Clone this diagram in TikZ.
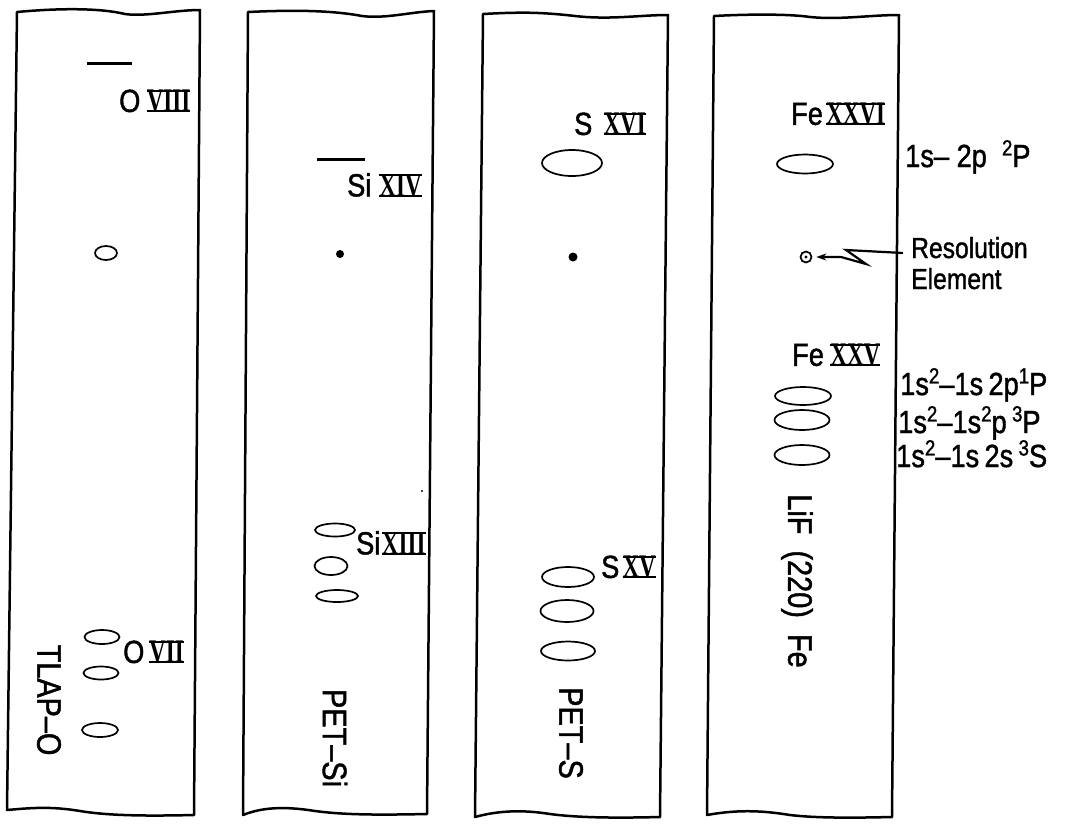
\documentclass[tikz,border=0pt]{standalone}
\usepackage{fontspec}
\usetikzlibrary{arrows.meta}
\setmainfont[FakeStretch=0.85,FakeBold=1.3]{Liberation Sans}
\newfontfamily\romfont[FakeStretch=0.7]{Liberation Serif}
\newcommand{\ionstage}[1]{{\romfont\bfseries\fontsize{33}{35}\selectfont
  \setbox0=\hbox{#1}%
  \rlap{\rule[-0.5pt]{\wd0}{2pt}}%
  \rlap{\rule[\dimexpr\ht0-1.5pt\relax]{\wd0}{2pt}}%
  \box0}}
\newcommand{\supnum}[1]{\raisebox{0.36em}{\fontsize{22}{24}\selectfont #1}}
\begin{document}
\begin{tikzpicture}[x=1pt,y=-1pt,>={Stealth[length=10pt,width=7pt]},
    strip/.style={line width=2.5pt,line join=round},
    spot/.style={line width=1.7pt},
    ion/.style={anchor=west,inner sep=0pt,font=\fontsize{32}{34}\selectfont},
    crystal/.style={rotate=-90,inner sep=0pt,font=\fontsize{34}{36}\selectfont},
    term/.style={anchor=base west,inner sep=0pt,font=\fontsize{32}{34}\selectfont},
    note/.style={anchor=base west,inner sep=0pt,font=\fontsize{29}{31}\selectfont}]
    \useasboundingbox (0,0) rectangle (1074,831);
    \draw[strip] (17,12) .. controls (60,8) and (100,8) .. (125,14)
      .. controls (145,17) and (175,10) .. (200,10) -- (194,815)
      .. controls (150,816) and (110,816) .. (80,811)
      .. controls (50,806) and (30,808) .. (7,810) -- cycle;
    \draw[strip] (248,12) .. controls (290,10) and (330,10) .. (362,16)
      .. controls (385,19) and (410,12) .. (434,11) -- (427,814)
      .. controls (380,815) and (345,815) .. (315,811)
      .. controls (290,807) and (265,806) .. (243,815) -- cycle;
    \draw[strip] (483,14) .. controls (520,12) and (540,12) .. (575,16)
      .. controls (610,20) and (640,15) .. (668,15) -- (660,817)
      .. controls (620,818) and (580,818) .. (550,814)
      .. controls (525,810) and (500,810) .. (475,817) -- cycle;
    \draw[strip] (714,16) .. controls (750,14) and (790,14) .. (810,17)
      .. controls (840,20) and (870,15) .. (899,15) -- (892,817)
      .. controls (850,818) and (815,818) .. (790,815)
      .. controls (765,811) and (740,809) .. (707,815) -- cycle;
    \draw[line width=3pt] (87,63) -- (132,63);
    \node[ion] (o8) at (119,101) {O\hspace{0.2em}\ionstage{VIII}};
    \draw[spot] (106,253) ellipse (11pt and 7pt);
    \draw[spot] (102,637) ellipse (17.5pt and 7pt) (101,673) ellipse (17.5pt and 6.5pt)
      (100,730) ellipse (18pt and 7pt);
    \node[ion] (o7) at (123,652) {O\hspace{0.15em}\ionstage{VII}};
    \node[crystal] (tlap) at (49,700) {TLAP–O};
    \draw[line width=3pt] (317,159) -- (365,159);
    \node[ion] (si14) at (347,185) {Si\hspace{0.25em}\ionstage{XIV}};
    \fill (340,254) circle (4pt);
    \fill (422,491) circle (1.2pt);
    \draw[spot] (335,530) ellipse (20pt and 6.5pt) (331,566) ellipse (16.5pt and 9pt)
      (337,596) ellipse (21pt and 6pt);
    \node[ion] (si13) at (356,543) {Si\hspace{0.05em}\ionstage{XIII}};
    \node[crystal] (petsi) at (335,738) {PET–Si};
    \node[ion] (s16) at (574,124) {S\hspace{0.35em}\ionstage{XVI}};
    \draw[spot] (572,163) ellipse (30pt and 13pt);
    \fill (573,257) circle (4.5pt);
    \node[ion] (s15) at (601,567) {S\hspace{0.1em}\ionstage{XV}};
    \draw[spot] (568,577) ellipse (26pt and 10pt) (567,611) ellipse (26.5pt and 11pt)
      (568,651) ellipse (27pt and 9.5pt);
    \node[crystal] (pets) at (571,733) {PET–S};
    \node[ion] (fe26) at (791,114) {Fe\hspace{0.1em}\ionstage{XXVI}};
    \draw[spot] (805,164) ellipse (28pt and 9.5pt);
    \node[term] (lyman) at (905,167) {1s–\ 2p\ \ \supnum{2}P};
    \node[circle,draw,spot,minimum size=11pt,inner sep=0pt] (reselem) at (806,257) {};
    \fill (reselem) circle (1.6pt);
    \node[note] (res) at (911,258) {Resolution};
    \node[note] (elem) at (911,289) {Element};
    \coordinate (boltstart) at (903,253);
    \draw[->,line width=2.2pt,line join=miter,shorten >=4pt] (boltstart) -- (846,250) -- (866,264)
      -- (841,257) -- (reselem.east);
    \node[ion] (fe25) at (792,355) {Fe\hspace{0.2em}\ionstage{XXV}};
    \draw[spot] (803,396) ellipse (28pt and 9pt) (802,420) ellipse (27.5pt and 10pt)
      (802,455) ellipse (27.5pt and 10pt);
    \node[term] (wline) at (900,395) {1s\supnum{2}–1s\,2p\supnum{1}P};
    \node[term] (yline) at (898,433) {1s\supnum{2}–1s\supnum{2}p\,\supnum{3}P};
    \node[term] (zline) at (896,467) {1s\supnum{2}–1s\,2s\,\supnum{3}S};
    \node[crystal] (lif) at (797,581) {LiF\ \ (220)\ \ Fe};
  \end{tikzpicture}
\end{document}
